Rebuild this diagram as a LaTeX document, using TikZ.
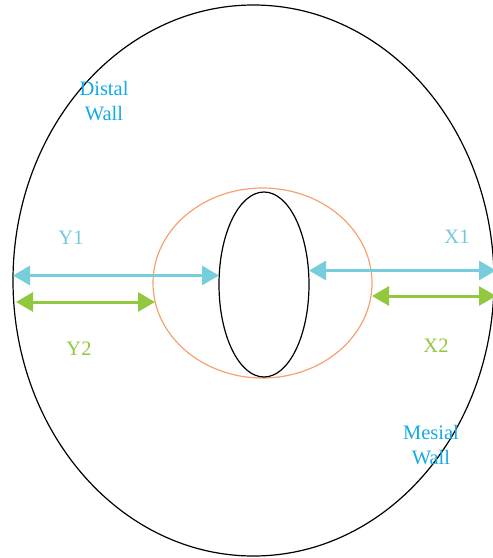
\documentclass[tikz,border=0pt]{standalone}
\usepackage{fontspec}
\setmainfont{Liberation Serif}
\usetikzlibrary{arrows.meta,shapes.geometric}
\definecolor{cyanarr}{RGB}{118,205,219}
\definecolor{greenarr}{RGB}{146,200,62}
\definecolor{orangeell}{RGB}{247,160,112}
\definecolor{wallblue}{RGB}{20,170,230}
\definecolor{ylabel}{RGB}{115,200,218}
\tikzset{
  ell/.style={ellipse, draw, inner sep=0pt},
  meas/.style={line width=3pt, {Triangle[length=17pt,width=19pt]}-{Triangle[length=17pt,width=19pt]}},
  lbl/.style={font=\fontsize{20.5}{25}\selectfont, align=center, inner sep=0pt},
}
\begin{document}
\begin{tikzpicture}[x=1pt,y=-1pt]
\useasboundingbox (0,0) rectangle (493,558);
\node[ell, line width=1.2pt, minimum width=481pt, minimum height=551pt] (outer) at (253.5,280.5) {};
\node[ell, draw=orangeell, line width=1.2pt, minimum width=219pt, minimum height=190pt] (orange) at (262.5,283) {};
\node[ell, line width=1.2pt, minimum width=90pt, minimum height=185pt] (inner) at (264,284.5) {};
\coordinate (y1a) at (13,275.5);
\coordinate (y1b) at (219,275.5);
\coordinate (y2a) at (16,302);
\coordinate (y2b) at (155,302);
\coordinate (x1a) at (309,270.5);
\coordinate (x1b) at (496,270.5);
\coordinate (x2a) at (372,296);
\coordinate (x2b) at (496,296);
\draw[meas, draw=cyanarr, fill=cyanarr] (y1a) -- (y1b);
\draw[meas, draw=greenarr, fill=greenarr] (y2a) -- (y2b);
\draw[meas, draw=cyanarr, fill=cyanarr] (x1a) -- (x1b);
\draw[meas, draw=greenarr, fill=greenarr] (x2a) -- (x2b);
\node[lbl, text=wallblue] (distal) at (104,101) {Distal\\Wall};
\node[lbl, text=wallblue] (mesial) at (431,445) {Mesial\\Wall};
\node[lbl, text=ylabel] (ly1) at (71,238) {Y1};
\node[lbl, text=greenarr] (ly2) at (79,349) {Y2};
\node[lbl, text=ylabel] (lx1) at (457,237) {X1};
\node[lbl, text=greenarr] (lx2) at (436,346) {X2};
\end{tikzpicture}
\end{document}
